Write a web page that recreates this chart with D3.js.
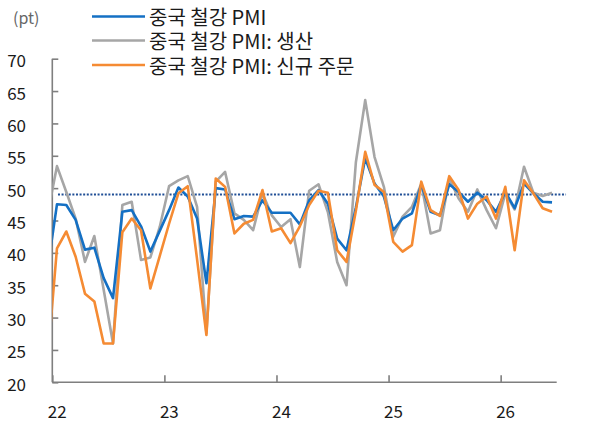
<!DOCTYPE html>
<html>
<head>
<meta charset="utf-8">
<script src="https://cdn.jsdelivr.net/npm/d3@7"></script>
<style>
  body { margin: 0; background: #fff; }
  text { font-family: "Noto Sans CJK KR", "Noto Sans", sans-serif; }
</style>
</head>
<body>
<div id="chart"></div>
<script>
// months: Dec 2021 (clipped at the axis) .. Jun 2026
var startMonth = -1;
var yearLabels = ["22", "23", "24", "25", "26"];
var yTicks = [20, 25, 30, 35, 40, 45, 50, 55, 60, 65, 70];
var refValue = 49;

var pmi = [37.5,
  47.5, 47.4, 45.1, 40.5, 40.8, 36.1, 33.0, 46.35, 46.6, 44.1, 40.2, 43.4,
  46.6, 50.1, 48.7, 45.3, 35.3, 50.0, 49.8, 45.2, 45.7, 45.6, 48.1, 46.2,
  46.2, 46.2, 44.4, 48.1, 49.7, 47.6, 42.2, 40.4, 47.0, 54.6, 50.7, 48.7,
  43.5, 45.3, 46.1, 50.5, 46.35, 45.8, 50.6, 49.4, 47.9, 49.3, 48.15, 46.35,
  49.4, 46.9, 50.7, 49.2, 47.9, 47.8];

var production = [46,
  53.4, 49.4, 45.3, 38.6, 42.6, 34.3, 26.0, 47.4, 47.9, 38.9, 39.3, 44.0,
  50.3, 51.2, 51.85, 47.1, 27.6, 51.0, 52.5, 46.1, 45.1, 43.5, 49.2, 45.8,
  44.0, 45.2, 37.8, 49.6, 50.6, 46.3, 38.6, 35.0, 54.0, 63.6, 54.8, 50.2,
  42.5, 45.6, 47.1, 50.7, 43.0, 43.5, 51.5, 48.4, 46.35, 49.8, 46.6, 43.8,
  49.2, 46.7, 53.3, 49.3, 48.8, 49.3];

var newOrders = [23.5,
  40.7, 43.3, 39.4, 33.7, 32.5, 26.0, 26.0, 43.2, 45.3, 43.5, 34.5, 39.5,
  44.5, 49.2, 50.3, 39.0, 27.3, 51.5, 50.2, 43.0, 44.5, 45.1, 49.7, 43.3,
  43.8, 41.5, 44.1, 47.4, 49.6, 49.3, 40.4, 38.6, 46.5, 55.6, 50.5, 49.4,
  41.7, 40.2, 41.2, 51.0, 46.6, 45.7, 51.85, 49.7, 45.3, 47.6, 48.7, 45.3,
  50.2, 40.4, 51.2, 49.2, 46.9, 46.35];

var seriesNames = ["중국 철강 PMI", "중국 철강 PMI: 생산", "중국 철강 PMI: 신규 주문"];
var seriesColors = ["#1470c4", "#a6a6a6", "#f58b33"];

var svgWidth = 595, svgHeight = 427;
var plotLeft = 52.3, plotRight = 556.7, plotTop = 58.7, plotBottom = 382.3;

var svg = d3.select("#chart").append("svg")
    .attr("width", svgWidth).attr("height", svgHeight);

var x = d3.scaleLinear().domain([-0.5, 53.5]).range([plotLeft, plotRight]);
var y = d3.scaleLinear().domain([20, 70]).range([plotBottom, plotTop]);

svg.append("defs").append("clipPath").attr("id", "plotClip")
  .append("rect").attr("x", plotLeft).attr("y", 0)
  .attr("width", svgWidth - plotLeft).attr("height", svgHeight);

// axes
var axisColor = "#7f7f7f";
var yAxis = svg.append("g").attr("transform", `translate(${plotLeft},0)`)
    .call(d3.axisRight(y).tickValues(yTicks).tickSize(6).tickFormat(""));
yAxis.select(".domain").attr("d", `M0,${plotBottom}V${plotTop}`);

var xAxis = svg.append("g").attr("transform", `translate(0,${plotBottom})`)
    .call(d3.axisTop(x).tickValues([-0.5, 11.5, 23.5, 35.5, 47.5]).tickSize(7).tickFormat(""));
xAxis.select(".domain").attr("d", `M${plotLeft},0H${plotRight}`);

svg.selectAll(".domain, .tick line")
    .attr("stroke", axisColor).attr("stroke-width", 1.6);

svg.append("g").selectAll("text").data(yTicks).enter().append("text")
    .attr("x", 26).attr("y", d => y(d) + 1)
    .attr("text-anchor", "end").attr("dominant-baseline", "central")
    .attr("font-size", "17px").attr("fill", "#1a1a1a")
    .text(d => d);

svg.append("g").selectAll("text").data(yearLabels).enter().append("text")
    .attr("x", (d, i) => x(i * 12) + 0.3).attr("y", 410)
    .attr("text-anchor", "middle").attr("dominant-baseline", "central")
    .attr("font-size", "17px").attr("fill", "#1a1a1a")
    .text(d => d);

svg.append("text").attr("x", 13).attr("y", 17)
    .attr("dominant-baseline", "central")
    .attr("font-size", "16px").attr("fill", "#666")
    .text("(pt)");

// reference line
svg.append("line")
    .attr("x1", x(0) + 1).attr("x2", x(54.5))
    .attr("y1", y(refValue)).attr("y2", y(refValue))
    .attr("stroke", "#1f4e96").attr("stroke-width", 2)
    .attr("stroke-dasharray", "2,1.6");

// series lines
var line = d3.line()
    .x((d, i) => x(i + startMonth))
    .y(d => y(d));

var plot = svg.append("g").attr("clip-path", "url(#plotClip)");
[[production, 1], [pmi, 0], [newOrders, 2]].forEach(function(s) {
    plot.append("path").datum(s[0])
        .attr("fill", "none")
        .attr("stroke", seriesColors[s[1]])
        .attr("stroke-width", 2.6)
        .attr("stroke-linejoin", "round")
        .attr("d", line);
});

// legend
var legendY = [16.5, 40.5, 65];
var legend = svg.append("g");
seriesNames.forEach(function(name, i) {
    legend.append("line")
        .attr("x1", 92).attr("x2", 145)
        .attr("y1", legendY[i]).attr("y2", legendY[i])
        .attr("stroke", seriesColors[i]).attr("stroke-width", 2.6);
    legend.append("text")
        .attr("x", 149).attr("y", legendY[i])
        .attr("dominant-baseline", "central")
        .attr("font-size", "20px").attr("fill", "#1a1a1a")
        .text(name);
});
</script>
</body>
</html>
